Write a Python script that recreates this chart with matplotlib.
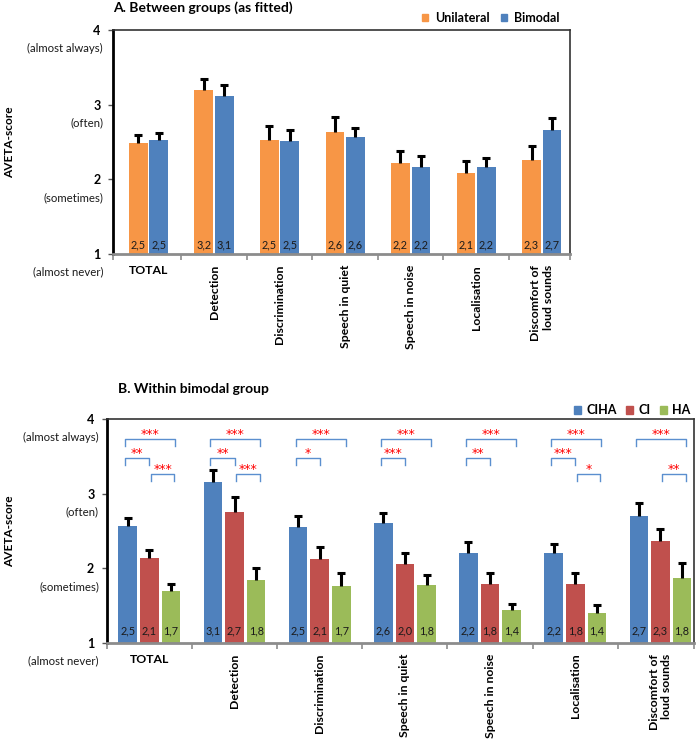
import numpy as np
import matplotlib
matplotlib.use("Agg")
import matplotlib.pyplot as plt
from matplotlib.patches import Patch

plt.rcParams['font.family'] = ['Lato', 'DejaVu Sans']

categories = ["TOTAL", "Detection", "Discrimination", "Speech in quiet",
              "Speech in noise", "Localisation", "Discomfort of\nloud sounds"]

# panel A: between groups
uni_mean = [2.49, 3.19, 2.53, 2.63, 2.22, 2.09, 2.26]
uni_err = [0.10, 0.15, 0.19, 0.20, 0.16, 0.16, 0.18]
uni_labels = ["2,5", "3,2", "2,5", "2,6", "2,2", "2,1", "2,3"]
bim_mean = [2.53, 3.11, 2.51, 2.57, 2.16, 2.16, 2.66]
bim_err = [0.09, 0.15, 0.15, 0.12, 0.15, 0.13, 0.16]
bim_labels = ["2,5", "3,1", "2,5", "2,6", "2,2", "2,2", "2,7"]

# panel B: within bimodal group
ciha_mean = [2.57, 3.16, 2.56, 2.61, 2.20, 2.20, 2.70]
ciha_err = [0.10, 0.16, 0.14, 0.13, 0.15, 0.13, 0.17]
ciha_labels = ["2,5", "3,1", "2,5", "2,6", "2,2", "2,2", "2,7"]
ci_mean = [2.14, 2.76, 2.12, 2.06, 1.79, 1.79, 2.37]
ci_err = [0.11, 0.20, 0.17, 0.15, 0.14, 0.14, 0.16]
ci_labels = ["2,1", "2,7", "2,1", "2,0", "1,8", "1,8", "2,3"]
ha_mean = [1.69, 1.84, 1.76, 1.78, 1.44, 1.40, 1.87]
ha_err = [0.10, 0.16, 0.17, 0.13, 0.08, 0.10, 0.20]
ha_labels = ["1,7", "1,8", "1,7", "1,8", "1,4", "1,4", "1,8"]

# significance: CIHA vs HA, CIHA vs CI, CI vs HA
sig_ciha_ha = ["***", "***", "***", "***", "***", "***", "***"]
sig_ciha_ci = ["**", "**", "*", "***", "**", "***", ""]
sig_ci_ha = ["***", "***", "", "", "", "*", "**"]

ytick_vals = [1, 2, 3, 4]
ytick_desc = ["(almost never)", "(sometimes)", "(often)", "(almost always)"]

ORANGE = "#F79646"
BLUE = "#4F81BD"
RED = "#C0504D"
GREEN = "#9BBB59"
BRACKET = "#5B8FCF"


def style_axes(ax, xlim, desc_dx):
    x = np.arange(len(categories))
    ax.set_xlim(*xlim)
    ax.set_ylim(1, 4)
    ax.set_yticks(ytick_vals)
    ax.set_yticklabels([str(v) for v in ytick_vals], fontsize=9, fontweight='bold')
    ax.tick_params(axis='y', length=3.6, width=1, pad=5.5, color='#555555')
    for v, d in zip(ytick_vals, ytick_desc):
        ax.annotate(d, xy=(0, v), xycoords=('axes fraction', 'data'),
                    xytext=(desc_dx, -13), textcoords='offset points',
                    ha='right', va='center', fontsize=8.2, color='#1a1a1a')
    ax.set_xticks(x)
    ax.set_xticklabels(categories, rotation=90, fontsize=8.8, fontweight='bold',
                       va='top', ha='center', multialignment='right')
    ax.get_xticklabels()[0].set_rotation(0)
    ax.tick_params(axis='x', which='major', length=0, pad=8)
    ax.set_xticks(list(x[:-1] + 0.5) + list(xlim), minor=True)
    ax.tick_params(axis='x', which='minor', length=4, width=1.2, color='#8c8c8c')
    ax.spines['left'].set_linewidth(2)
    ax.spines['bottom'].set_linewidth(2)
    ax.spines['bottom'].set_color('#8c8c8c')
    ax.spines['top'].set_linewidth(1.2)
    ax.spines['right'].set_linewidth(1.2)
    ax.spines['top'].set_color('#333333')
    ax.spines['right'].set_color('#333333')


def draw_group(ax, xs, mean, err, labels, color, width, label_y):
    mean = np.array(mean)
    top = mean + np.array(err)
    ax.bar(xs, mean - 1, bottom=1, width=width, color=color, edgecolor='none')
    # one-sided error bars (upper only)
    ax.vlines(xs, mean, top, color='black', lw=2.2)
    ax.plot(xs, top, ls='none', marker='_', ms=5.5, mew=2.2, color='black')
    for xi, lab in zip(xs, labels):
        ax.text(xi, label_y, lab, ha='center', va='center', fontsize=7.8, color='#1a1a1a')


fig = plt.figure(figsize=(6.96, 7.42), dpi=100)

# ---- panel A
axA = fig.add_axes([0.1624, 0.6577, 0.6566, 0.3019])
x = np.arange(len(categories))
wA = 0.285
draw_group(axA, x - 0.156, uni_mean, uni_err, uni_labels, ORANGE, wA, 1.12)
draw_group(axA, x + 0.156, bim_mean, bim_err, bim_labels, BLUE, wA, 1.12)
style_axes(axA, (-0.54, 6.43), -7.2)
axA.legend(handles=[Patch(color=ORANGE, label='Unilateral'), Patch(color=BLUE, label='Bimodal')],
           loc='lower right', bbox_to_anchor=(0.99, 1.0), ncol=2, frameon=False,
           handlelength=0.55, handleheight=0.55, handletextpad=0.5, columnspacing=0.9,
           borderaxespad=0.3, borderpad=0.2, prop={'weight': 'bold', 'size': 9})
fig.text(113 / 696, 1 - 8 / 742, "A. Between groups (as fitted)", fontsize=10,
         fontweight='bold', ha='left', va='center')
fig.text(10 / 696, 0.6577 + 0.3019 / 2, "AVETA-score", rotation=90, fontsize=8.6,
         fontweight='bold', ha='center', va='center')

# ---- panel B
axB = fig.add_axes([0.1537, 0.1338, 0.843, 0.3011])
wB = 0.217
pitch = 0.254
draw_group(axB, x - pitch, ciha_mean, ciha_err, ciha_labels, BLUE, wB, 1.16)
draw_group(axB, x, ci_mean, ci_err, ci_labels, RED, wB, 1.16)
draw_group(axB, x + pitch, ha_mean, ha_err, ha_labels, GREEN, wB, 1.16)
style_axes(axB, (-0.497, 6.39), -5.8)
axB.legend(handles=[Patch(color=BLUE, label='CIHA'), Patch(color=RED, label='CI'),
                    Patch(color=GREEN, label='HA')],
           loc='lower right', bbox_to_anchor=(1.0, 1.0), ncol=3, frameon=False,
           handlelength=0.55, handleheight=0.55, handletextpad=0.4, columnspacing=0.8,
           borderaxespad=0.15, borderpad=0.1, prop={'weight': 'bold', 'size': 9})
fig.text(118 / 696, 1 - 389 / 742, "B. Within bimodal group", fontsize=10,
         fontweight='bold', ha='left', va='center')
fig.text(10 / 696, 0.1338 + 0.3011 / 2, "AVETA-score", rotation=90, fontsize=8.6,
         fontweight='bold', ha='center', va='center')


def bracket(ax, x0, x1, y, stars):
    ax.plot([x0, x0, x1, x1], [y - 0.095, y, y, y - 0.095], color=BRACKET, lw=1,
            clip_on=False)
    ax.text((x0 + x1) / 2, y + 0.02, stars, ha='center', va='baseline',
            color='#FF0000', fontsize=9, family='DejaVu Sans')


for i in range(len(categories)):
    if sig_ciha_ha[i]:
        bracket(axB, i - pitch - 0.03, i + pitch + 0.05, 3.73, sig_ciha_ha[i])
    if sig_ciha_ci[i]:
        bracket(axB, i - pitch - 0.03, i + 0.0, 3.48, sig_ciha_ci[i])
    if sig_ci_ha[i]:
        bracket(axB, i + 0.02, i + pitch + 0.04, 3.26, sig_ci_ha[i])

fig.savefig("out.png", dpi=100)
